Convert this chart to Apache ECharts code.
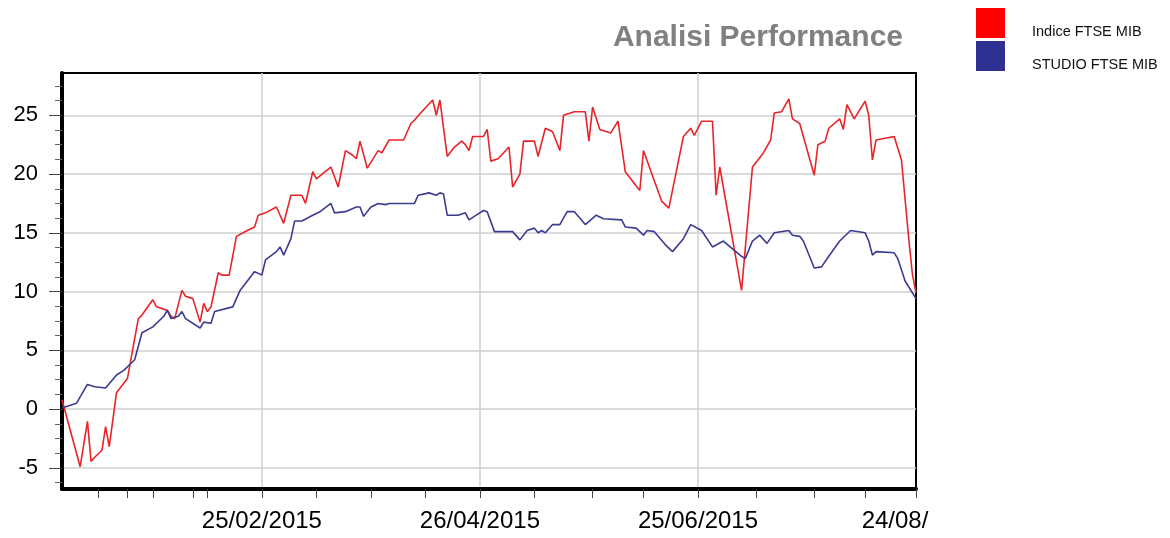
<!DOCTYPE html>
<html><head><meta charset="utf-8">
<script src="https://cdn.jsdelivr.net/npm/echarts@6/dist/echarts.min.js"></script>
<style>html,body{margin:0;padding:0;background:#fff}#c{width:1170px;height:538px}</style>
</head><body><div id="c"></div>
<script>
const YEAR = 2015;
const redDates = ['01-01','01-06','01-08','01-09','01-10','01-11','01-12','01-13','01-14','01-16','01-19','01-22','01-23','01-26','01-27','01-30','01-31','02-01','02-03','02-04','02-06','02-08','02-09','02-10','02-11','02-13','02-14','02-16','02-18','02-21','02-23','02-24','02-26','03-01','03-03','03-05','03-08','03-09','03-11','03-12','03-14','03-16','03-18','03-20','03-22','03-23','03-24','03-26','03-29','03-30','04-01','04-05','04-07','04-08','04-10','04-13','04-14','04-15','04-17','04-19','04-21','04-22','04-23','04-24','04-27','04-28','04-29','05-01','05-04','05-05','05-07','05-08','05-11','05-12','05-14','05-16','05-18','05-19','05-22','05-25','05-26','05-27','05-29','06-01','06-03','06-05','06-09','06-10','06-15','06-17','06-21','06-23','06-24','06-26','06-29','06-30','07-01','07-07','07-10','07-13','07-15','07-16','07-18','07-20','07-21','07-23','07-27','07-28','07-30','07-31','08-03','08-04','08-05','08-07','08-10','08-11','08-12','08-13','08-18','08-20','08-22','08-23','08-24'];
const redValues = [0.8,-4.9,-1.05,-4.45,-4.1,-3.8,-3.5,-1.5,-3.2,1.4,2.6,7.7,8.0,9.3,8.7,8.4,7.9,7.7,10.1,9.6,9.4,7.4,9.0,8.3,8.7,11.6,11.4,11.4,14.7,15.2,15.5,16.5,16.7,17.2,15.8,18.2,18.2,17.5,20.2,19.6,20.1,20.6,18.9,22.0,21.6,21.3,22.8,20.5,22.0,21.8,22.9,22.9,24.3,24.6,25.3,26.3,25.0,26.3,21.5,22.3,22.8,22.5,22.0,23.2,23.2,23.8,21.1,21.3,22.3,18.9,20.0,22.8,22.8,21.5,23.9,23.6,22.0,25.0,25.3,25.3,22.8,25.7,23.8,23.5,24.5,20.2,18.6,22.0,17.7,17.1,23.2,23.9,23.3,24.5,24.5,18.2,20.6,10.1,20.6,21.8,22.9,25.2,25.3,26.4,24.7,24.3,19.9,22.5,22.8,23.9,24.7,23.8,25.9,24.7,26.2,25.0,21.2,22.9,23.2,21.2,14.5,11.5,9.9];
const blueDates = ['01-01','01-05','01-08','01-10','01-13','01-16','01-18','01-21','01-23','01-26','01-29','01-30','01-31','02-02','02-03','02-04','02-08','02-09','02-11','02-12','02-17','02-19','02-21','02-23','02-25','02-26','03-01','03-02','03-03','03-05','03-06','03-08','03-11','03-13','03-16','03-17','03-20','03-23','03-24','03-25','03-27','03-29','03-31','04-01','04-08','04-09','04-12','04-14','04-15','04-16','04-17','04-20','04-22','04-23','04-25','04-27','04-28','04-30','05-05','05-07','05-09','05-11','05-12','05-13','05-14','05-16','05-18','05-20','05-22','05-25','05-28','05-30','06-04','06-05','06-08','06-10','06-11','06-13','06-16','06-18','06-21','06-23','06-26','06-29','07-02','07-05','07-07','07-08','07-10','07-12','07-14','07-16','07-20','07-21','07-23','07-24','07-27','07-29','07-31','08-03','08-06','08-10','08-11','08-12','08-13','08-18','08-19','08-21','08-24'];
const blueValues = [0.1,0.5,2.1,1.9,1.8,2.9,3.3,4.2,6.5,7.0,7.9,8.4,7.7,7.9,8.3,7.7,6.9,7.4,7.3,8.3,8.7,10.1,10.9,11.7,11.4,12.7,13.4,13.8,13.1,14.5,16.0,16.0,16.5,16.8,17.5,16.7,16.8,17.2,17.2,16.4,17.2,17.5,17.4,17.5,17.5,18.2,18.4,18.2,18.4,18.3,16.5,16.5,16.7,16.1,16.5,16.9,16.8,15.1,15.1,14.4,15.2,15.4,15.0,15.2,15.0,15.7,15.7,16.8,16.8,15.7,16.5,16.2,16.1,15.5,15.4,14.8,15.2,15.1,14.0,13.4,14.5,15.7,15.2,13.8,14.3,13.5,13.0,12.8,14.3,14.8,14.1,15.0,15.2,14.8,14.7,14.3,12.0,12.1,13.0,14.3,15.2,15.0,14.3,13.1,13.4,13.3,12.8,10.9,9.4];
const xStart = '01-01';
const xEnd = '08-24';
const xTickDates = ['02-25','04-26','06-25','08-24'];
const xTickLabels = ['25/02/2015','26/04/2015','25/06/2015','24/08/'];
const xMinorTickDates = ['01-11','01-19','01-26','02-06','02-10','03-12','03-27','04-11','05-11','05-27','06-10','07-11','07-27','08-10'];
const yMin = -6.8, yMax = 28.6;
const yTicks = [-5,0,5,10,15,20,25];
const yMinorTicks = [-6.25,-3.75,-2.5,-1.25,1.25,2.5,3.75,6.25,7.5,8.75,11.25,12.5,13.75,16.25,17.5,18.75,21.25,22.5,23.75,26.25,27.5];

const toTs = s => { const p = s.split('-').map(Number); return Date.UTC(YEAR, p[0]-1, p[1]); };
const majorTs = xTickDates.map(toTs);
const minorTs = xMinorTickDates.map(toTs);
const FONT = '"Liberation Sans", Arial, sans-serif';

const chart = echarts.init(document.getElementById('c'), null, {renderer:'canvas'});
chart.setOption({
  animation: false,
  title: {text:'Analisi Performance', right:262, top:18,
    textStyle:{fontFamily:FONT, fontSize:30, fontWeight:'bold', color:'#808080'}},
  legend: {orient:'vertical', left:971, top:0, itemWidth:29, itemHeight:30, itemGap:-3, icon:'rect',
    formatter: name => '\n' + name,
    textStyle:{fontFamily:FONT, fontSize:14.5, lineHeight:18, color:'#111', padding:[0,0,0,22]}},
  grid: {left:62, top:73, right:254, bottom:49, show:true, borderColor:'#000', borderWidth:2, containLabel:false, outerBoundsMode:'none'},
  xAxis: [{
    type:'value', min:toTs(xStart), max:toTs(xEnd), position:'bottom', scale:true,
    axisLine:{show:true, onZero:false, lineStyle:{color:'#000', width:4}},
    axisTick:{show:true, customValues:majorTs, length:9, lineStyle:{color:'#444', width:1}},
    axisLabel:{customValues:majorTs, margin:20, fontFamily:FONT, fontSize:24, color:'#000',
      formatter:function(v){
        let k = 0, best = Infinity;
        majorTs.forEach((t,i)=>{ const d=Math.abs(t-v); if(d<best){best=d;k=i;} });
        return k === majorTs.length-1 ? '{e|'+xTickLabels[k]+'}' : xTickLabels[k];
      },
      rich:{e:{fontFamily:FONT, fontSize:24, color:'#000', padding:[0,42,0,0]}}},
    splitLine:{show:true, showMaxLine:false, lineStyle:{color:'#cfcfcf', width:1.5}}
  },{
    type:'value', min:toTs(xStart), max:toTs(xEnd), position:'bottom', scale:true,
    axisLine:{show:false, onZero:false},
    axisTick:{show:true, customValues:minorTs, length:9, lineStyle:{color:'#444', width:1}},
    axisLabel:{show:false}, splitLine:{show:false}
  }],
  yAxis: [{
    type:'value', min:yMin, max:yMax, position:'left',
    axisLine:{show:true, onZero:false, lineStyle:{color:'#000', width:4}},
    axisTick:{show:true, customValues:yTicks, length:13, lineStyle:{color:'#444', width:1}},
    axisLabel:{customValues:yTicks, margin:24, fontFamily:FONT, fontSize:22, color:'#000'},
    splitLine:{show:true, lineStyle:{color:'#cfcfcf', width:1.5}}
  },{
    type:'value', min:yMin, max:yMax, position:'left',
    axisLine:{show:false, onZero:false},
    axisTick:{show:true, customValues:yMinorTicks, length:7, lineStyle:{color:'#666', width:1}},
    axisLabel:{show:false}, splitLine:{show:false}
  }],
  series: [{
    name:'Indice FTSE MIB', type:'line', xAxisIndex:0, yAxisIndex:0, symbol:'none', showSymbol:false,
    data: redDates.map((d,i)=>[toTs(d), redValues[i]]),
    itemStyle:{color:'#ff0000'}, lineStyle:{color:'#e8232a', width:1.6}
  },{
    name:'STUDIO FTSE MIB', type:'line', xAxisIndex:0, yAxisIndex:0, symbol:'none', showSymbol:false,
    data: blueDates.map((d,i)=>[toTs(d), blueValues[i]]),
    itemStyle:{color:'#2e3192'}, lineStyle:{color:'#3b3b91', width:1.6}
  }]
});
</script></body></html>
